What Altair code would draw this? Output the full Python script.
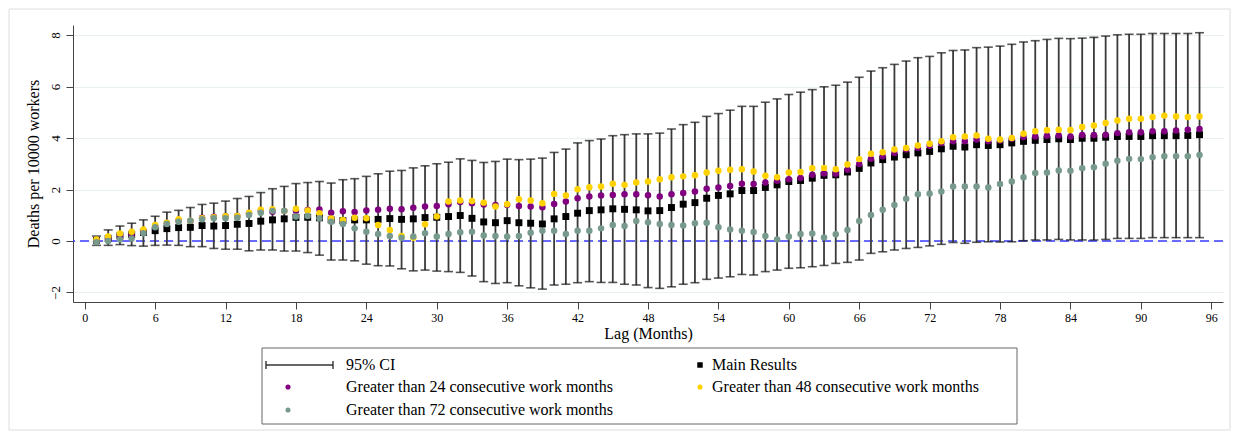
import altair as alt
import pandas as pd

# ---------------- data ----------------
lags = list(range(1, 96))

main_results = [
    0.02, 0.10, 0.20, 0.25, 0.33, 0.40, 0.48, 0.52, 0.53, 0.60,
    0.58, 0.60, 0.65, 0.68, 0.77, 0.82, 0.86, 0.92, 0.92, 0.90,
    0.82, 0.79, 0.82, 0.82, 0.84, 0.87, 0.84, 0.86, 0.91, 0.92,
    0.95, 0.99, 0.88, 0.74, 0.71, 0.79, 0.71, 0.69, 0.66, 0.86,
    0.95, 1.08, 1.18, 1.21, 1.25, 1.23, 1.21, 1.17, 1.18, 1.30,
    1.43, 1.49, 1.66, 1.77, 1.83, 1.96, 1.96, 2.08, 2.18, 2.31,
    2.35, 2.44, 2.55, 2.57, 2.68, 2.82, 3.03, 3.16, 3.26, 3.35,
    3.42, 3.48, 3.58, 3.68, 3.65, 3.74, 3.71, 3.74, 3.81, 3.87,
    3.91, 3.94, 3.97, 3.94, 3.99, 3.99, 4.03, 4.06, 4.06, 4.06,
    4.09, 4.09, 4.09, 4.10, 4.13,
]

ci_upper = [
    0.19, 0.43, 0.58, 0.69, 0.82, 0.96, 1.12, 1.19, 1.30, 1.42,
    1.47, 1.55, 1.65, 1.73, 1.88, 2.03, 2.12, 2.23, 2.27, 2.31,
    2.25, 2.38, 2.42, 2.51, 2.61, 2.71, 2.74, 2.84, 2.92, 3.00,
    3.06, 3.19, 3.13, 3.05, 3.09, 3.18, 3.16, 3.18, 3.22, 3.44,
    3.57, 3.81, 3.90, 3.96, 4.09, 4.13, 4.16, 4.16, 4.19, 4.35,
    4.52, 4.61, 4.84, 4.95, 5.08, 5.23, 5.23, 5.39, 5.52, 5.69,
    5.78, 5.88, 5.99, 6.05, 6.17, 6.36, 6.60, 6.73, 6.86, 6.99,
    7.12, 7.17, 7.31, 7.40, 7.42, 7.51, 7.53, 7.57, 7.64, 7.73,
    7.78, 7.83, 7.87, 7.86, 7.88, 7.91, 7.96, 8.01, 8.03, 8.03,
    8.06, 8.06, 8.06, 8.06, 8.09,
]

ci_lower = [
    -0.17, -0.17, -0.14, -0.18, -0.20, -0.17, -0.16, -0.17, -0.22, -0.22,
    -0.29, -0.32, -0.32, -0.38, -0.35, -0.35, -0.39, -0.39, -0.45, -0.55,
    -0.74, -0.74, -0.77, -0.90, -0.96, -0.97, -1.08, -1.16, -1.13, -1.17,
    -1.19, -1.22, -1.36, -1.58, -1.65, -1.62, -1.74, -1.82, -1.87, -1.71,
    -1.68, -1.62, -1.58, -1.61, -1.61, -1.68, -1.71, -1.81, -1.84, -1.78,
    -1.68, -1.62, -1.49, -1.44, -1.39, -1.30, -1.32, -1.19, -1.13, -1.06,
    -1.04, -1.00, -0.95, -0.87, -0.83, -0.74, -0.48, -0.42, -0.35, -0.29,
    -0.25, -0.19, -0.13, -0.06, -0.09, -0.05, -0.03, -0.04, -0.03, 0.01,
    0.04, 0.04, 0.06, 0.04, 0.04, 0.04, 0.06, 0.10, 0.10, 0.10,
    0.13, 0.13, 0.13, 0.13, 0.13,
]

gt24 = [
    0.03, 0.10, 0.20, 0.23, 0.38, 0.58, 0.70, 0.80, 0.78, 0.90,
    0.94, 0.96, 0.97, 1.08, 1.17, 1.14, 1.17, 1.17, 1.20, 1.22,
    1.10, 1.16, 1.13, 1.18, 1.21, 1.25, 1.23, 1.29, 1.34, 1.36,
    1.43, 1.51, 1.47, 1.42, 1.40, 1.40, 1.36, 1.34, 1.31, 1.44,
    1.53, 1.66, 1.73, 1.77, 1.79, 1.82, 1.82, 1.78, 1.73, 1.82,
    1.86, 1.92, 2.03, 2.08, 2.14, 2.22, 2.21, 2.27, 2.34, 2.40,
    2.45, 2.57, 2.62, 2.61, 2.77, 2.99, 3.19, 3.29, 3.42, 3.55,
    3.61, 3.70, 3.81, 3.87, 3.87, 3.94, 3.87, 3.90, 3.97, 4.04,
    4.06, 4.09, 4.10, 4.06, 4.12, 4.12, 4.13, 4.19, 4.22, 4.22,
    4.26, 4.26, 4.29, 4.32, 4.35,
]

gt48 = [
    0.06, 0.17, 0.29, 0.36, 0.45, 0.62, 0.71, 0.84, 0.79, 0.88,
    0.92, 0.96, 0.97, 1.10, 1.21, 1.23, 1.17, 1.25, 1.18, 1.08,
    0.87, 0.82, 0.90, 0.88, 0.62, 0.43, 0.19, 0.13, 0.65, 0.95,
    1.53, 1.57, 1.55, 1.49, 1.34, 1.43, 1.62, 1.57, 1.47, 1.83,
    1.77, 2.01, 2.09, 2.12, 2.22, 2.18, 2.27, 2.31, 2.40, 2.48,
    2.51, 2.55, 2.66, 2.73, 2.77, 2.79, 2.70, 2.53, 2.48, 2.66,
    2.68, 2.83, 2.84, 2.79, 2.97, 3.18, 3.39, 3.45, 3.55, 3.61,
    3.71, 3.78, 3.87, 4.03, 4.06, 4.10, 3.97, 3.94, 4.00, 4.17,
    4.26, 4.30, 4.32, 4.31, 4.43, 4.49, 4.58, 4.68, 4.75, 4.75,
    4.82, 4.87, 4.84, 4.82, 4.84,
]

gt72 = [
    -0.05, 0.00, 0.06, 0.10, 0.30, 0.53, 0.66, 0.75, 0.79, 0.84,
    0.88, 0.88, 0.90, 1.01, 1.10, 1.17, 1.17, 0.95, 0.97, 0.88,
    0.75, 0.66, 0.49, 0.36, 0.27, 0.19, 0.13, 0.17, 0.30, 0.17,
    0.27, 0.34, 0.36, 0.21, 0.19, 0.17, 0.19, 0.32, 0.40, 0.40,
    0.27, 0.40, 0.40, 0.49, 0.62, 0.58, 0.78, 0.73, 0.66, 0.62,
    0.60, 0.69, 0.71, 0.53, 0.45, 0.40, 0.35, 0.19, 0.06, 0.17,
    0.27, 0.29, 0.14, 0.26, 0.43, 0.78, 1.01, 1.21, 1.40, 1.64,
    1.82, 1.84, 1.92, 2.12, 2.12, 2.12, 2.08, 2.21, 2.31, 2.48,
    2.64, 2.66, 2.74, 2.73, 2.83, 2.86, 3.00, 3.12, 3.19, 3.18,
    3.25, 3.29, 3.29, 3.29, 3.34,
]

x_ticks = list(range(0, 97, 6))
y_ticks = [-2, 0, 2, 4, 6, 8]
zero_line = [0]

legend_labels = [
    "95% CI",
    "Main Results",
    "Greater than 24 consecutive work months",
    "Greater than 48 consecutive work months",
    "Greater than 72 consecutive work months",
]

# ---------------- styling ----------------
FONT = "Liberation Serif"
PURPLE = "#800080"
GOLD = "#FFD200"
SAGE = "#789A8C"
BAR = "#3a3a3a"
ZERO = "#3b3bff"

W, H = 1150, 277

df = pd.DataFrame({
    "lag": lags, "main": main_results, "lo": ci_lower, "hi": ci_upper,
    "gt24": gt24, "gt48": gt48, "gt72": gt72,
})

xs = alt.Scale(domain=[-1, 97], nice=False, zero=False)
ys = alt.Scale(domain=[-2.37, 8.39], nice=False, zero=False)

x_axis = alt.Axis(
    values=x_ticks, title="Lag (Months)", grid=False,
    labelFont=FONT, labelFontSize=12, labelColor="#000", labelPadding=3,
    titleFont=FONT, titleFontSize=16, titleFontWeight="normal", titleColor="#000",
    titlePadding=2, tickSize=7, tickColor="#444", domainColor="#444",
)
y_axis = alt.Axis(
    values=y_ticks, title="Deaths per 10000 workers", grid=True,
    gridColor="#e8f0f0", gridWidth=1,
    labelFont=FONT, labelFontSize=13, labelColor="#000", labelAngle=270,
    labelAlign="center", labelBaseline="bottom", labelPadding=4,
    titleFont=FONT, titleFontSize=16, titleFontWeight="normal", titleColor="#000",
    titlePadding=8, tickSize=7, tickColor="#444", domainColor="#444",
)


def X(field):
    return alt.X(f"{field}:Q", scale=xs, axis=x_axis)


def Y(field):
    return alt.Y(f"{field}:Q", scale=ys, axis=y_axis)


base = alt.Chart(df)

zero_rule = alt.Chart(pd.DataFrame({"z": zero_line})).mark_rule(
    color=ZERO, strokeDash=[9, 5], strokeWidth=1.6
).encode(y=Y("z"))

ci_bars = base.mark_rule(color=BAR, strokeWidth=1.8).encode(
    x=X("lag"), y=Y("lo"), y2="hi:Q"
)
ci_caps = base.transform_fold(["lo", "hi"], as_=["end", "val"]).mark_tick(
    orient="horizontal", size=9, thickness=1.6, color="#111"
).encode(x=X("lag"), y=Y("val"))

pt_main = base.mark_square(size=48, color="#000", opacity=1).encode(x=X("lag"), y=Y("main"))
pt24 = base.mark_circle(size=42, color=PURPLE, opacity=1).encode(x=X("lag"), y=Y("gt24"))
pt48 = base.mark_circle(size=42, color=GOLD, opacity=1).encode(x=X("lag"), y=Y("gt48"))
pt72 = base.mark_circle(size=42, color=SAGE, opacity=1).encode(x=X("lag"), y=Y("gt72"))

# ---------------- hand-drawn legend (below the plot) and outer frame ----------------
one = pd.DataFrame({"k": [0]})
lg = alt.Chart(one)

outer_frame = lg.mark_rect(fill=None, stroke="#dddddd", strokeWidth=1).encode(
    x=alt.value(-64), x2=alt.value(1157), y=alt.value(-16), y2=alt.value(405)
)
leg_box = lg.mark_rect(fill="white", stroke="#666", strokeWidth=1).encode(
    x=alt.value(189), x2=alt.value(944), y=alt.value(323), y2=alt.value(399)
)
leg_ci_line = lg.mark_rule(color="#333", strokeWidth=1.6).encode(
    x=alt.value(193), x2=alt.value(260), y=alt.value(340)
)
leg_ci_cap1 = lg.mark_rule(color="#333", strokeWidth=1.4).encode(
    x=alt.value(193), y=alt.value(336), y2=alt.value(344)
)
leg_ci_cap2 = lg.mark_rule(color="#333", strokeWidth=1.4).encode(
    x=alt.value(260), y=alt.value(336), y2=alt.value(344)
)
leg_main = lg.mark_square(size=30, color="#000", opacity=1).encode(x=alt.value(627), y=alt.value(340))
leg_24 = lg.mark_circle(size=26, color=PURPLE, opacity=1).encode(x=alt.value(215), y=alt.value(362))
leg_48 = lg.mark_circle(size=26, color=GOLD, opacity=1).encode(x=alt.value(627), y=alt.value(362))
leg_72 = lg.mark_circle(size=26, color=SAGE, opacity=1).encode(x=alt.value(215), y=alt.value(385))


def leg_text(label, xpix, ypix):
    return lg.mark_text(
        align="left", baseline="middle", font=FONT, fontSize=16, color="#000"
    ).encode(x=alt.value(xpix), y=alt.value(ypix), text=alt.value(label))


leg_texts = [
    leg_text(legend_labels[0], 273, 340),
    leg_text(legend_labels[1], 639, 340),
    leg_text(legend_labels[2], 273, 362),
    leg_text(legend_labels[3], 639, 362),
    leg_text(legend_labels[4], 273, 385),
]

chart = alt.layer(
    outer_frame, zero_rule, ci_bars, ci_caps, pt_main, pt24, pt48, pt72,
    leg_box, leg_ci_line, leg_ci_cap1, leg_ci_cap2, leg_main, leg_24, leg_48, leg_72,
    *leg_texts,
).properties(
    width=W, height=H,
    autosize=alt.AutoSizeParams(type="none"),
    padding={"left": 65, "top": 17, "right": 8, "bottom": 130},
    background="white",
).configure_view(stroke=None)

chart.save("out.html", embed_options={"renderer": "svg", "actions": False})
